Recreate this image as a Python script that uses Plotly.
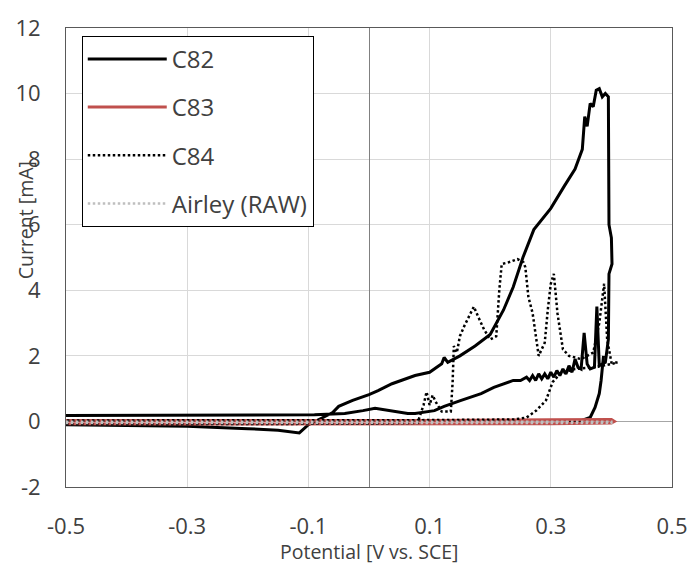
import plotly.graph_objects as go

# ---------------- data ----------------
c82_x = [-0.5, -0.4, -0.3, -0.2, -0.15, -0.115, -0.1, -0.076, -0.06, -0.05, -0.027, 0.0, 0.015, 0.038,
         0.076, 0.1, 0.12, 0.124, 0.13, 0.15, 0.175, 0.2, 0.222, 0.238, 0.254, 0.272, 0.3, 0.323,
         0.34, 0.352, 0.356, 0.36, 0.365, 0.37, 0.375, 0.38, 0.385, 0.39, 0.395, 0.396, 0.4, 0.401,
         0.396, 0.395, 0.39, 0.385, 0.38, 0.376, 0.372, 0.365, 0.36, 0.355, 0.35, 0.345, 0.34,
         0.335, 0.33, 0.325, 0.32, 0.315, 0.31, 0.305, 0.3, 0.295, 0.29, 0.285, 0.28, 0.275, 0.27,
         0.265, 0.26, 0.25, 0.238, 0.206, 0.185, 0.152, 0.124, 0.108, 0.076, 0.064, 0.043, 0.01,
         -0.01, -0.04, -0.09, -0.2, -0.35, -0.5,
         None, 0.33, 0.35, 0.365, 0.373, 0.38, 0.383, 0.387]
c82_y = [-0.1, -0.12, -0.15, -0.22, -0.27, -0.35, -0.1, 0.12, 0.27, 0.46, 0.64, 0.82, 0.94, 1.15,
         1.4, 1.5, 1.76, 1.95, 1.8, 2.0, 2.3, 2.65, 3.4, 4.1, 5.0, 5.85, 6.5, 7.2,
         7.7, 8.3, 9.3, 9.0, 9.7, 9.6, 10.1, 10.15, 9.9, 10.0, 9.9, 6.0, 5.6, 4.8,
         4.5, 2.5, 1.8, 1.75, 1.7, 3.5, 1.65, 1.6, 1.75, 2.7, 1.6, 1.65, 1.9,
         1.5, 1.7, 1.45, 1.6, 1.4, 1.55, 1.35, 1.5, 1.3, 1.45, 1.3, 1.45, 1.25, 1.4,
         1.25, 1.35, 1.25, 1.25, 1.04, 0.85, 0.64, 0.46, 0.33, 0.24, 0.24, 0.3, 0.4,
         0.33, 0.24, 0.2, 0.19, 0.18, 0.18,
         None, 0.02, 0.02, 0.12, 0.43, 0.85, 1.25, 2.0]

c83_x = [-0.5, -0.3, -0.1, 0.1, 0.3, 0.4, 0.405, 0.4, 0.3, 0.1, -0.1, -0.3, -0.5]
c83_y = [0.03, 0.03, 0.02, 0.03, 0.05, 0.06, 0.0, -0.05, -0.07, -0.08, -0.08, -0.08, -0.07]

c84_x = [-0.5, -0.3, -0.1, 0.0, 0.08, 0.09, 0.095, 0.1, 0.105, 0.11, 0.12, 0.135, 0.138, 0.14,
         0.145, 0.15, 0.157, 0.165, 0.173, 0.18, 0.19, 0.2, 0.21, 0.215, 0.219, 0.23, 0.245, 0.255,
         0.258, 0.263, 0.27, 0.28, 0.29, 0.295, 0.3, 0.305, 0.311, 0.32, 0.33, 0.35, 0.37, 0.38,
         0.388, 0.393, 0.4, 0.41, 0.4, 0.37, 0.34, 0.315, 0.303, 0.292, 0.276, 0.26, 0.24, 0.1,
         -0.1, -0.3, -0.5]
c84_y = [-0.09, -0.09, -0.08, -0.07, -0.05, 0.5, 0.9, 0.5, 0.8, 0.6, 0.3, 0.3, 1.2, 2.3,
         2.1, 2.6, 2.9, 3.2, 3.5, 3.2, 2.8, 2.5, 2.6, 4.0, 4.8, 4.85, 4.95, 4.85,
         4.7, 3.8, 3.3, 2.0, 2.4, 3.4, 4.2, 4.5, 3.3, 2.2, 2.0, 1.9, 2.1, 3.0,
         4.2, 2.5, 1.8, 1.8, 1.75, 1.65, 1.6, 1.45, 1.2, 0.64, 0.33, 0.12, 0.06, 0.04,
         0.03, 0.03, 0.03]

airley_x = [-0.5, -0.3, -0.1, 0.1, 0.3, 0.4, 0.4, 0.3, 0.1, -0.1, -0.3, -0.5]
airley_y = [-0.01, -0.01, -0.01, -0.01, -0.01, -0.01, -0.05, -0.05, -0.05, -0.05, -0.05, -0.05]

x_ticks = [-0.5, -0.3, -0.1, 0.1, 0.3, 0.5]
x_tick_text = ["-0.5", "-0.3", "-0.1", "0.1", "0.3", "0.5"]
y_ticks = [-2, 0, 2, 4, 6, 8, 10, 12]
y_tick_text = ["-2", "0", "2", "4", "6", "8", "10", "12"]

FONT = "Open Sans"
TXT = "#404040"

fig = go.Figure()
fig.add_trace(go.Scatter(x=c82_x, y=c82_y, mode="lines", name="C82", legendgroup="a",
                         line=dict(color="black", width=3), connectgaps=False))
fig.add_trace(go.Scatter(x=c83_x, y=c83_y, mode="lines", name="C83", legendgroup="b",
                         line=dict(color="#C0504D", width=3)))
fig.add_trace(go.Scatter(x=c84_x, y=c84_y, mode="lines", name="C84", legendgroup="c",
                         line=dict(color="black", width=2.5, dash="2.5px,2.5px")))
fig.add_trace(go.Scatter(x=airley_x, y=airley_y, mode="lines", name="Airley (RAW)", legendgroup="d",
                         line=dict(color="#BFBFBF", width=2.5, dash="2.5px,2.5px")))

fig.update_layout(
    width=699, height=564,
    margin=dict(l=66, r=18, t=27, b=77),
    paper_bgcolor="white", plot_bgcolor="white",
    font=dict(family=FONT, size=22, color=TXT),
    showlegend=True,
    legend=dict(x=0.026, y=0.983, xanchor="left", yanchor="top",
                bgcolor="white", bordercolor="black", borderwidth=1,
                font=dict(family=FONT, size=24, color=TXT),
                itemwidth=79, tracegroupgap=14, traceorder="grouped"),
    xaxis=dict(range=[-0.5, 0.5], tickmode="array", tickvals=x_ticks, ticktext=x_tick_text,
               showgrid=True, gridcolor="#D9D9D9", gridwidth=1,
               zeroline=True, zerolinecolor="#808080", zerolinewidth=1,
               showline=True, mirror=True, linecolor="#595959", linewidth=1,
               ticks="outside", ticklen=20, tickcolor="rgba(0,0,0,0)",
               tickfont=dict(family=FONT, size=22, color=TXT)),
    yaxis=dict(range=[-2, 12], tickmode="array", tickvals=y_ticks, ticktext=y_tick_text,
               showgrid=True, gridcolor="#D9D9D9", gridwidth=1,
               zeroline=True, zerolinecolor="#A6A6A6", zerolinewidth=1,
               showline=True, mirror=True, linecolor="#595959", linewidth=1,
               ticks="outside", ticklen=20, tickcolor="rgba(0,0,0,0)",
               tickfont=dict(family=FONT, size=22, color=TXT)),
    annotations=[
        dict(text="Current [mA]", xref="paper", yref="paper", x=-0.0667, y=0.58,
             xanchor="center", yanchor="middle", textangle=-90, showarrow=False,
             font=dict(family=FONT, size=19.5, color=TXT)),
        dict(text="Potential [V vs. SCE]", xref="paper", yref="paper", x=0.5, y=-0.141,
             xanchor="center", yanchor="middle", showarrow=False,
             font=dict(family=FONT, size=19.5, color=TXT)),
    ],
)

fig.write_html("out.html")
